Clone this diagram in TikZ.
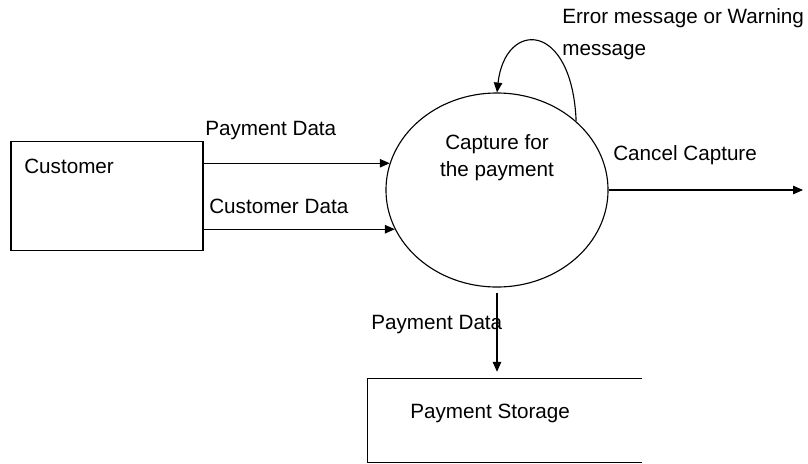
\documentclass[tikz,border=0pt]{standalone}
\usepackage{fontspec}
\setmainfont{Liberation Sans}
\usetikzlibrary{arrows.meta,positioning,shapes.geometric}

\begin{document}
\begin{tikzpicture}[x=0.025cm, y=-0.025cm, >={Triangle[length=7pt,width=6pt]},
    every node/.style={font=\fontsize{14.7}{19.2}\selectfont},
    flow/.style={->, line width=0.8pt},
    lbl/.style={anchor=west, inner sep=0pt},
    entity/.style={rectangle, draw, line width=0.9pt, minimum width=4.8cm, minimum height=2.72cm},
    process/.style={ellipse, draw, line width=0.8pt, minimum width=5.55cm, minimum height=4.85cm, inner sep=0pt}]
    \useasboundingbox (0,0) rectangle (808,463);

    % external entity and process
    \node[entity] (cust) at (107,196) {};
    \node[lbl] (custtext) at (24,166) {Customer};
    \node[process] (proc) at (497,190) {};
    \node[align=center, inner sep=0pt] (proctext) at (497,158) {Capture for\\the payment};

    % data store, open on the right
    \node[minimum width=6.85cm, minimum height=2.07cm, inner sep=0pt] (store) at (505,420.5) {};
    \draw[line width=0.8pt] (store.north east) -- (store.north west) -- (store.south west) -- (store.south east);
    \node[lbl] (storetext) at (410,413) {Payment Storage};

    % flows
    \draw[flow] (cust.east |- proc.166) -- (proc.166);
    \draw[flow] (cust.east |- proc.201) -- (proc.201);
    \coordinate (out) at (803,190);
    \draw[flow] (proc.east) -- (out);
    \draw[flow, shorten <=3.5pt, shorten >=5pt] (proc.south) -- (proc.south |- store.north);
    \draw[flow] (proc.41) .. controls (572,20) and (505,20) .. (proc.north);

    \node[lbl] (paylbl) at (205,131) {Payment Data};
    \node[lbl] (custlbl) at (209,206) {Customer Data};
    \node[lbl] (cancellbl) at (613,155) {Cancel Capture};
    \node[lbl] (storelbl) at (371,325) {Payment Data};
    \node[lbl, align=left, font=\fontsize{14.7}{22.8}\selectfont] (errlbl) at (562,34) {Error message or Warning\\message};
\end{tikzpicture}
\end{document}
